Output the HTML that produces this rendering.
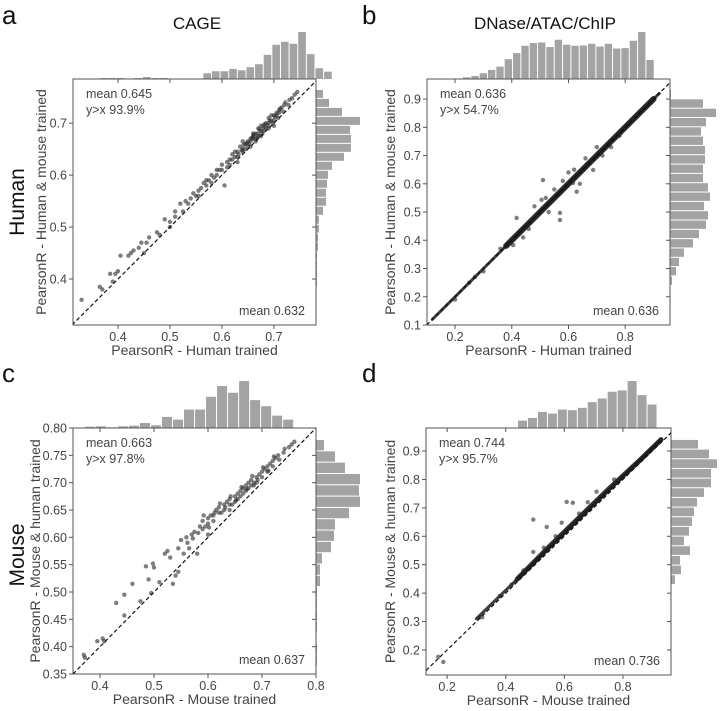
<!DOCTYPE html>
<html><head><meta charset="utf-8"><style>
html,body{margin:0;padding:0;background:#fff;}
svg{display:block;font-family:"Liberation Sans",Arial,sans-serif;}
</style></head><body>
<svg id="fig" width="720" height="711" viewBox="0 0 720 711" xmlns="http://www.w3.org/2000/svg">
<text x="2" y="24" font-size="26" fill="#111">a</text>
<text x="362" y="24" font-size="26" fill="#111">b</text>
<text x="2" y="382" font-size="26" fill="#111">c</text>
<text x="362" y="382" font-size="26" fill="#111">d</text>
<text x="197" y="29" font-size="17" text-anchor="middle" fill="#111">CAGE</text>
<text x="545" y="29" font-size="17" text-anchor="middle" fill="#111">DNase/ATAC/ChIP</text>
<text transform="translate(24,202) rotate(-90)" font-size="21" text-anchor="middle" fill="#111">Human</text>
<text transform="translate(24,555) rotate(-90)" font-size="21" text-anchor="middle" fill="#111">Mouse</text>
</svg>
<script>
// ---- Panel a data ----
const aPoints=[[0.33,0.36],[0.365,0.385],[0.37,0.38],[0.385,0.41],[0.39,0.395],[0.395,0.41],[0.405,0.445],[0.42,0.445],[0.425,0.45],[0.43,0.455],[0.44,0.46],[0.445,0.47],[0.455,0.47],[0.475,0.49],[0.49,0.515],[0.5,0.51],[0.5,0.5],[0.51,0.52],[0.52,0.545],[0.53,0.55],[0.54,0.555],[0.545,0.565],[0.55,0.56],[0.555,0.57],[0.56,0.575],[0.57,0.58],[0.575,0.59],[0.58,0.6],[0.59,0.6],[0.595,0.61],[0.6,0.62],[0.605,0.58],[0.61,0.625],[0.615,0.63],[0.62,0.64],[0.625,0.635],[0.63,0.645],[0.635,0.655],[0.64,0.65],[0.645,0.66],[0.65,0.665],[0.655,0.67],[0.66,0.675],[0.665,0.68],[0.67,0.69],[0.675,0.685],[0.68,0.695],[0.685,0.7],[0.69,0.71],[0.695,0.705],[0.7,0.715],[0.705,0.72],[0.71,0.725],[0.715,0.73],[0.72,0.735],[0.73,0.745],[0.74,0.755],[0.745,0.76],[0.62,0.63],[0.63,0.635],[0.64,0.665],[0.65,0.655],[0.655,0.665],[0.66,0.67],[0.665,0.67],[0.67,0.675],[0.675,0.695],[0.68,0.69],[0.685,0.69],[0.69,0.7],[0.695,0.715],[0.7,0.705],[0.705,0.715],[0.71,0.72],[0.6,0.61],[0.61,0.615],[0.58,0.585],[0.565,0.585],[0.535,0.545],[0.66,0.68],[0.67,0.68],[0.68,0.685],[0.64,0.645],[0.645,0.65],
[0.615,0.62],[0.625,0.645],[0.632,0.64],[0.638,0.648],[0.642,0.658],[0.648,0.662],[0.652,0.66],[0.658,0.672],[0.662,0.678],[0.668,0.672],[0.672,0.688],[0.678,0.68],[0.682,0.698],[0.688,0.695],[0.692,0.705],[0.698,0.7],[0.702,0.712],[0.708,0.71],[0.712,0.728],[0.718,0.722],[0.722,0.74],[0.728,0.735],[0.735,0.748],[0.69,0.69],[0.7,0.695],[0.675,0.675],[0.665,0.665],[0.655,0.655],[0.63,0.625],[0.59,0.61],[0.585,0.595],[0.57,0.59],[0.555,0.56],[0.525,0.53],[0.51,0.53],[0.48,0.485],[0.46,0.48],[0.45,0.45],[0.4,0.415]];
const aTopStart=0.365, aTopWidth=0.0166;
const aTopCounts=[1,1,1,0,1,2,1,1,0.5,0.5,0.5,0.5,5.7,7.7,7.7,10,8.7,11.7,14.7,24,34,37,35,46.7,24.7,10.7,7.3];
const aRightStart=0.764, aRightWidth=0.0173;
const aRightCounts=[7,13,26,44,34,35,35,28,16,12,11,10,10,7,3,3,2,2,1,1,1,1];
const aXTicks=[0.4,0.5,0.6,0.7], aXTickLabels=["0.4","0.5","0.6","0.7"];
const aYTicks=[0.4,0.5,0.6,0.7], aYTickLabels=["0.4","0.5","0.6","0.7"];
// ---- Panel b data ----
const bBand=[[0.12,0.12],[0.2,0.2],[0.3,0.3],[0.4,0.4],[0.5,0.5],[0.6,0.6],[0.7,0.7],[0.8,0.8],[0.9,0.9],[0.92,0.92]];
const bBandThick=[[0.38,0.38],[0.45,0.45],[0.55,0.55],[0.65,0.65],[0.75,0.75],[0.85,0.85],[0.9,0.9]];
const bPoints=[[0.417,0.479],[0.51,0.613],[0.505,0.543],[0.57,0.472],[0.629,0.572],[0.828,0.826],[0.57,0.497],[0.616,0.603],[0.687,0.649],[0.405,0.383],[0.48,0.52],[0.53,0.5],[0.55,0.58],[0.6,0.64],[0.64,0.6],[0.72,0.7],[0.75,0.73],[0.3,0.29],[0.27,0.27],[0.25,0.25],[0.2,0.19],[0.36,0.37],[0.44,0.41],[0.66,0.69],[0.58,0.61],[0.62,0.65],[0.52,0.55],[0.46,0.44],[0.78,0.77],[0.7,0.73]];
const bTopStart=0.228, bTopWidth=0.0294;
const bTopCounts=[1.7,3,5.7,9,12.3,19.7,25.7,33,35.7,36.3,31.7,39,34,33,33.3,35,32.3,35,30.3,30.7,38,46.7,19];
const bRightStart=0.932, bRightWidth=0.033;
const bRightCounts=[1,33,46,36,31,33,35,35,33,33,38,40,34,38,36,29,23,14,9,6,2];
const bXTicks=[0.2,0.4,0.6,0.8], bXTickLabels=["0.2","0.4","0.6","0.8"];
const bYTicks=[0.1,0.2,0.3,0.4,0.5,0.6,0.7,0.8,0.9], bYTickLabels=["0.1","0.2","0.3","0.4","0.5","0.6","0.7","0.8","0.9"];
// ---- Panel c data ----
const cPoints=[[0.37,0.385],[0.372,0.38],[0.395,0.41],[0.405,0.415],[0.408,0.41],[0.43,0.48],[0.445,0.495],[0.445,0.457],[0.46,0.515],[0.475,0.483],[0.485,0.547],[0.49,0.523],[0.495,0.498],[0.498,0.552],[0.5,0.545],[0.51,0.518],[0.52,0.57],[0.525,0.575],[0.53,0.563],[0.535,0.515],[0.54,0.53],[0.545,0.537],[0.545,0.58],[0.55,0.595],[0.555,0.57],[0.56,0.6],[0.565,0.58],[0.57,0.605],[0.575,0.61],[0.58,0.57],[0.585,0.62],[0.59,0.63],[0.595,0.62],[0.6,0.635],[0.6,0.605],[0.605,0.64],[0.61,0.64],[0.615,0.65],[0.62,0.655],[0.625,0.645],[0.63,0.66],[0.635,0.665],[0.64,0.67],[0.645,0.66],[0.65,0.675],[0.655,0.68],[0.66,0.685],[0.665,0.69],[0.67,0.695],[0.675,0.7],[0.68,0.705],[0.685,0.7],[0.69,0.71],[0.695,0.715],[0.7,0.72],[0.705,0.725],[0.71,0.73],[0.715,0.735],[0.72,0.74],[0.725,0.745],[0.73,0.75],[0.74,0.755],[0.75,0.765],[0.76,0.775],[0.755,0.77],[0.62,0.645],[0.63,0.65],[0.64,0.66],[0.65,0.665],[0.66,0.675],[0.67,0.685],[0.68,0.695],[0.69,0.7],[0.7,0.71],[0.61,0.63],[0.6,0.625],[0.59,0.615],[0.64,0.65],[0.655,0.67],[0.665,0.68],[0.675,0.69],[0.685,0.695],[0.71,0.72],[0.72,0.73],
[0.612,0.645],[0.622,0.662],[0.632,0.655],[0.642,0.675],[0.652,0.668],[0.662,0.692],[0.672,0.688],[0.682,0.712],[0.692,0.705],[0.702,0.728],[0.712,0.722],[0.722,0.748],[0.732,0.742],[0.742,0.762],[0.602,0.618],[0.592,0.64],[0.582,0.608],[0.572,0.598],[0.562,0.59]];
const cTopStart=0.372, cTopWidth=0.0204;
const cTopCounts=[1.3,1.7,0.7,1.7,2.3,5,2.7,11,8.3,18.3,18.3,31,41.7,35,46.7,27.7,21.7,12.3,8.3];
const cRightStart=0.778, cRightWidth=0.0207;
const cRightCounts=[8,19,29,44,43,44,33,19,18,15,6,4,4,1,1,1,1,0.5,1,1];
const cXTicks=[0.4,0.5,0.6,0.7,0.8], cXTickLabels=["0.4","0.5","0.6","0.7","0.8"];
const cYTicks=[0.35,0.4,0.45,0.5,0.55,0.6,0.65,0.7,0.75,0.8], cYTickLabels=["0.35","0.40","0.45","0.50","0.55","0.60","0.65","0.70","0.75","0.80"];
// ---- Panel d data ----
const dBand=[[0.3,0.31],[0.35,0.36],[0.4,0.41],[0.44,0.45],[0.6,0.61],[0.8,0.81],[0.93,0.94]];
const dBandThick=[[0.44,0.45],[0.55,0.565],[0.65,0.665],[0.75,0.765],[0.85,0.86],[0.93,0.94]];
const dPoints=[[0.494,0.659],[0.54,0.633],[0.608,0.721],[0.629,0.718],[0.591,0.648],[0.494,0.545],[0.71,0.757],[0.17,0.176],[0.187,0.158],[0.437,0.446],[0.31,0.315],[0.32,0.315],[0.38,0.39],[0.42,0.43],[0.46,0.48],[0.53,0.56],[0.57,0.6],[0.65,0.68],[0.68,0.72],[0.77,0.8]];
const dTopStart=0.442, dTopWidth=0.034;
const dTopCounts=[7.3,10,16,14.3,18.3,17.7,20,25.7,29.3,36,37.3,46.7,32.7,23.3];
const dRightStart=0.939, dRightWidth=0.034;
const dRightCounts=[27,38,46,40,40,33,26,23,21,18,13,19,9,10,4];
const dXTicks=[0.2,0.4,0.6,0.8], dXTickLabels=["0.2","0.4","0.6","0.8"];
const dYTicks=[0.2,0.3,0.4,0.5,0.6,0.7,0.8,0.9], dYTickLabels=["0.2","0.3","0.4","0.5","0.6","0.7","0.8","0.9"];

const NS="http://www.w3.org/2000/svg";
const svg=document.getElementById('fig');
function mk(tag,attrs,parent){const e=document.createElementNS(NS,tag);for(const k in attrs)e.setAttribute(k,attrs[k]);(parent||svg).appendChild(e);return e;}

function panel(id,cfg){
  const g=mk('g',{});
  
  
  const sx=v=>cfg.x0+(v-cfg.xd[0])/(cfg.xd[1]-cfg.xd[0])*(cfg.x1-cfg.x0);
  const sy=v=>cfg.y1-(v-cfg.yd[0])/(cfg.yd[1]-cfg.yd[0])*(cfg.y1-cfg.y0);
  const maxT=Math.max(...cfg.topCounts), maxR=Math.max(...cfg.rightCounts);
  cfg.topCounts.forEach((c,i)=>{
    const xa=sx(cfg.topStart+i*cfg.topWidth), xb=sx(cfg.topStart+(i+1)*cfg.topWidth);
    const h=c/maxT*cfg.histH;
    const r=mk('rect',{x:xa,y:cfg.y0-h,width:Math.max(0.5,xb-xa-1),height:h,fill:'#a3a3a3'},g);
    
    
  });
  cfg.rightCounts.forEach((c,i)=>{
    const ya=sy(cfg.rightStart-i*cfg.rightWidth), yb=sy(cfg.rightStart-(i+1)*cfg.rightWidth);
    const w=c/maxR*cfg.histW;
    const r=mk('rect',{x:cfg.x1,y:ya,width:w,height:Math.max(0.5,yb-ya-1),fill:'#a3a3a3'},g);
    
    
  });
  const f=mk('rect',{x:cfg.x0,y:cfg.y0,width:cfg.x1-cfg.x0,height:cfg.y1-cfg.y0,fill:'#fff',stroke:'#555','stroke-width':1},g);
  
  
  const cp=mk('clipPath',{id:'clip'+id},g);
  mk('rect',{x:cfg.x0,y:cfg.y0,width:cfg.x1-cfg.x0,height:cfg.y1-cfg.y0},cp);
  const pg=mk('g',{'clip-path':'url(#clip'+id+')'},g);
  
  
  if(cfg.band){
    const pl=mk('polyline',{points:cfg.band.map(p=>sx(p[0])+','+sy(p[1])).join(' '),fill:'none',stroke:'rgba(30,30,30,0.85)','stroke-width':3,'stroke-linecap':'round'},pg);
    
    
    const pt=mk('polyline',{points:cfg.bandThick.map(p=>sx(p[0])+','+sy(p[1])).join(' '),fill:'none',stroke:'rgba(25,25,25,0.9)','stroke-width':cfg.bandW,'stroke-linecap':'round'},pg);
    
    
  }
  cfg.points.forEach(p=>{
    const c=mk('circle',{cx:sx(p[0]),cy:sy(p[1]),r:2.2,fill:'rgba(40,40,40,0.6)'},pg);
    
    
  });
  const dl=mk('line',{x1:sx(Math.min(cfg.xd[0],cfg.yd[0])),y1:sy(Math.min(cfg.xd[0],cfg.yd[0])),x2:sx(Math.max(cfg.xd[1],cfg.yd[1])),y2:sy(Math.max(cfg.xd[1],cfg.yd[1])),stroke:'#111','stroke-width':1.2,'stroke-dasharray':'4,2.5'},pg);
  
  
  cfg.xt.forEach((t,i)=>{
    const x=sx(t);
    mk('line',{x1:x,y1:cfg.y1,x2:x,y2:cfg.y1+4,stroke:'#555'},g);
    mk('line',{x1:x,y1:cfg.y0,x2:x,y2:cfg.y0+4,stroke:'#555'},g);
    const tx=mk('text',{x:x,y:cfg.y1+16,'font-size':12.5,'text-anchor':'middle',fill:'#444'},g);
    tx.textContent=cfg.xtl[i];
    
    
  });
  cfg.yt.forEach((t,i)=>{
    const y=sy(t);
    mk('line',{x1:cfg.x0-4,y1:y,x2:cfg.x0,y2:y,stroke:'#555'},g);
    mk('line',{x1:cfg.x1-4,y1:y,x2:cfg.x1,y2:y,stroke:'#555'},g);
    const tx=mk('text',{x:cfg.x0-6,y:y+4.5,'font-size':12.5,'text-anchor':'end',fill:'#444'},g);
    tx.textContent=cfg.ytl[i];
    
    
  });
  const xl=mk('text',{x:(cfg.x0+cfg.x1)/2,y:cfg.y1+30,'font-size':14,'text-anchor':'middle',fill:'#444'},g);
  xl.textContent=cfg.xlabel;
  
  
  const yl=mk('text',{transform:'translate('+cfg.ylx+','+(cfg.y0+cfg.y1)/2+') rotate(-90)','font-size':14,'text-anchor':'middle',fill:'#444'},g);
  yl.textContent=cfg.ylabel;
  
  
  const m1=mk('text',{x:cfg.x0+13,y:cfg.y0+19,'font-size':12.5,fill:'#444'},g);
  m1.textContent=cfg.m1;
  
  
  const m2=mk('text',{x:cfg.x0+13,y:cfg.y0+35,'font-size':12.5,fill:'#444'},g);
  m2.textContent=cfg.m2;
  
  
  const m3=mk('text',{x:cfg.x1-11,y:cfg.y1-10,'font-size':12.5,'text-anchor':'end',fill:'#444'},g);
  m3.textContent=cfg.m3;
  
  
}

panel('a',{x0:73,x1:316,y0:79,y1:325,xd:[0.3135,0.781],yd:[0.3115,0.785],points:aPoints,
  topCounts:aTopCounts,topStart:aTopStart,topWidth:aTopWidth,rightCounts:aRightCounts,rightStart:aRightStart,rightWidth:aRightWidth,
  histH:47,histW:44,xt:aXTicks,xtl:aXTickLabels,yt:aYTicks,ytl:aYTickLabels,
  xlabel:'PearsonR - Human trained',ylabel:'PearsonR - Human & mouse trained',ylx:46,m1:'mean 0.645',m2:'y>x 93.9%',m3:'mean 0.632'});
panel('b',{x0:427,x1:670,y0:79,y1:325,xd:[0.101,0.958],yd:[0.1,0.971],points:bPoints,band:bBand,bandThick:bBandThick,bandW:6,
  topCounts:bTopCounts,topStart:bTopStart,topWidth:bTopWidth,rightCounts:bRightCounts,rightStart:bRightStart,rightWidth:bRightWidth,
  histH:47,histW:46,xt:bXTicks,xtl:bXTickLabels,yt:bYTicks,ytl:bYTickLabels,
  xlabel:'PearsonR - Human trained',ylabel:'PearsonR - Human & mouse trained',ylx:395,m1:'mean 0.636',m2:'y>x 54.7%',m3:'mean 0.636'});
panel('c',{x0:73,x1:316,y0:428,y1:674,xd:[0.35,0.8],yd:[0.35,0.8],points:cPoints,
  topCounts:cTopCounts,topStart:cTopStart,topWidth:cTopWidth,rightCounts:cRightCounts,rightStart:cRightStart,rightWidth:cRightWidth,
  histH:47,histW:44,xt:cXTicks,xtl:cXTickLabels,yt:cYTicks,ytl:cYTickLabels,
  xlabel:'PearsonR - Mouse trained',ylabel:'PearsonR - Mouse & human trained',ylx:40,m1:'mean 0.663',m2:'y>x 97.8%',m3:'mean 0.637'});
panel('d',{x0:426,x1:671,y0:428,y1:675,xd:[0.128,0.964],yd:[0.112,0.981],points:dPoints,band:dBand,bandThick:dBandThick,bandW:5,
  topCounts:dTopCounts,topStart:dTopStart,topWidth:dTopWidth,rightCounts:dRightCounts,rightStart:dRightStart,rightWidth:dRightWidth,
  histH:47,histW:46,xt:dXTicks,xtl:dXTickLabels,yt:dYTicks,ytl:dYTickLabels,
  xlabel:'PearsonR - Mouse trained',ylabel:'PearsonR - Mouse & human trained',ylx:395,m1:'mean 0.744',m2:'y>x 95.7%',m3:'mean 0.736'});
</script>
</body></html>
